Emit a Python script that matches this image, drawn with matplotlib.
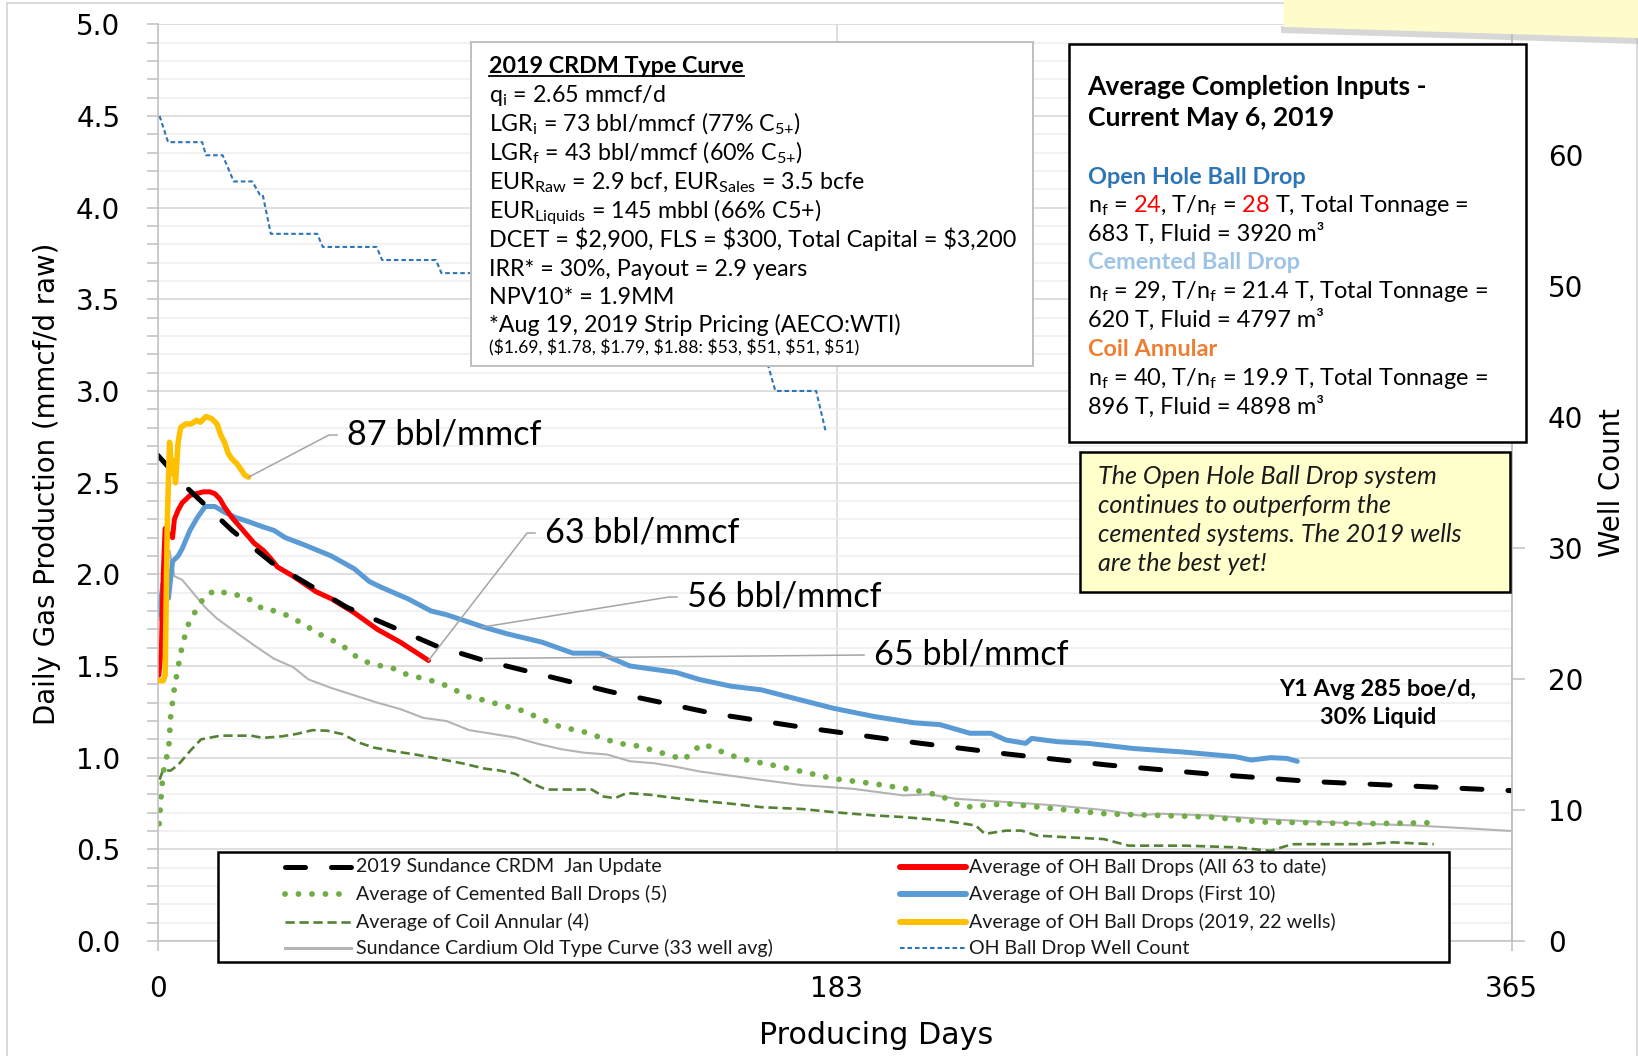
import numpy as np
import matplotlib
matplotlib.use("Agg")
import matplotlib.pyplot as plt
from matplotlib.lines import Line2D
from matplotlib.patches import Rectangle, Polygon
from matplotlib.transforms import Bbox

plt.rcParams['font.family'] = ['DejaVu Sans']
plt.rcParams['mathtext.fontset'] = 'custom'
plt.rcParams['mathtext.rm'] = 'Lato'
plt.rcParams['mathtext.it'] = 'Lato:italic'
plt.rcParams['mathtext.bf'] = 'Lato:bold'

# ---------------- data ----------------
x_ticks = [0, 183, 365]
x_tick_labels = ["0", "183", "365"]
y_ticks = [0.0, 0.5, 1.0, 1.5, 2.0, 2.5, 3.0, 3.5, 4.0, 4.5, 5.0]
y_tick_labels = ["0.0", "0.5", "1.0", "1.5", "2.0", "2.5", "3.0", "3.5", "4.0", "4.5", "5.0"]
y2_ticks = [0, 10, 20, 30, 40, 50, 60]
y2_tick_labels = ["0", "10", "20", "30", "40", "50", "60"]

crdm_days = [0, 8, 20, 31, 51, 75, 88, 100, 122, 150, 174, 201, 229, 256, 284, 311, 338, 365]
crdm_rate = [2.65, 2.47, 2.24, 2.06, 1.82, 1.61, 1.53, 1.47, 1.36, 1.24, 1.165, 1.09, 1.02, 0.96,
             0.91, 0.87, 0.845, 0.82]

cem_days = [0.4, 0.9, 1.4, 2.0, 2.9, 3.5, 4.5, 5.5, 6.6, 8.1, 10.2, 12.8, 15.9, 19.5, 22.6, 25.7,
            28.3, 31.9, 35, 38.1, 41.2, 44.3, 47.4, 50.5, 53.6, 56.6, 60.3, 63.8, 66.9, 70.5, 74.2,
            77.8, 84, 88.2, 91.3, 98.4, 104.7, 108.3, 115, 121.7, 125.4, 129, 132.5, 138.9, 142,
            144, 147.2, 150.3, 157, 168, 182, 193, 204, 211, 215, 217.7, 223, 228.7, 242.5, 256,
            270, 283.7, 297.5, 311, 325, 344]
cem_rate = [0.64, 0.78, 0.90, 0.98, 1.03, 1.227, 1.38, 1.494, 1.61, 1.72, 1.80, 1.885, 1.914, 1.89,
            1.885, 1.853, 1.81, 1.80, 1.775, 1.742, 1.704, 1.666, 1.637, 1.60, 1.55, 1.52, 1.50,
            1.485, 1.456, 1.437, 1.418, 1.393, 1.33, 1.313, 1.294, 1.256, 1.20, 1.17, 1.14, 1.094,
            1.075, 1.065, 1.046, 1.008, 0.989, 1.036, 1.075, 1.046, 0.995, 0.95, 0.886, 0.858,
            0.823, 0.794, 0.749, 0.73, 0.74, 0.749, 0.72, 0.693, 0.685, 0.676, 0.649, 0.645, 0.64,
            0.645]

coil_days = [0.5, 1.4, 3.5, 5.5, 8.7, 11.7, 16.9, 21, 25.2, 28.3, 33.4, 37.6, 41.7, 45.7, 49.9, 54,
             58.2, 63.4, 69.5, 75.7, 81.9, 88.2, 92.2, 96.4, 100.5, 104.7, 110.8, 117, 120.2, 123.3,
             126.4, 132.5, 139.7, 146, 154.5, 162.7, 173.7, 182, 193, 201, 212, 220.5, 223, 228.7,
             232.9, 237, 245, 255, 261.8, 277, 290.6, 300, 305.8, 318, 325, 333, 344]
coil_rate = [0.88, 0.93, 0.93, 0.96, 1.036, 1.10, 1.12, 1.12, 1.12, 1.108, 1.116, 1.13, 1.15, 1.147,
             1.128, 1.084, 1.055, 1.036, 1.017, 0.994, 0.97, 0.94, 0.93, 0.912, 0.864, 0.826, 0.826,
             0.826, 0.788, 0.779, 0.807, 0.798, 0.779, 0.765, 0.749, 0.73, 0.72, 0.703, 0.685,
             0.676, 0.657, 0.63, 0.584, 0.602, 0.602, 0.575, 0.566, 0.556, 0.52, 0.52, 0.511, 0.492,
             0.528, 0.528, 0.528, 0.538, 0.528]

old_days = [0.5, 1.5, 3.2, 4.5, 6.6, 9.7, 12.8, 15.9, 21, 26.2, 31.3, 36.5, 40.6, 46.8, 53, 59.2,
            65.4, 71.6, 77.8, 84, 90.2, 96.4, 102.6, 108.8, 115, 121.2, 127.4, 133.6, 139.8, 146,
            160, 173.7, 187.5, 201, 208, 215, 228.7, 242.5, 256.2, 264.5, 270, 283.7, 297.5, 311,
            325, 339, 352.5, 365]
old_rate = [1.75, 1.85, 2.13, 1.99, 1.97, 1.895, 1.82, 1.76, 1.685, 1.61, 1.54, 1.494, 1.427, 1.38,
            1.34, 1.30, 1.265, 1.217, 1.20, 1.15, 1.13, 1.11, 1.075, 1.046, 1.027, 1.017, 0.98,
            0.97, 0.95, 0.925, 0.886, 0.85, 0.83, 0.794, 0.80, 0.776, 0.758, 0.739, 0.712, 0.685,
            0.694, 0.685, 0.666, 0.652, 0.64, 0.63, 0.615, 0.60]

all63_days = [0.3, 1.0, 1.5, 2.0, 3, 4, 4.5, 5.5, 6.6, 8.7, 10.5, 12.3, 14, 15.4, 16.8, 17.9, 20, 23,
              26, 28.5, 30.3, 32.3, 36.5, 42.7, 46.8, 53, 59.2, 65.4, 73]
all63_rate = [1.45, 1.6, 2.0, 2.25, 2.22, 2.2, 2.3, 2.35, 2.39, 2.43, 2.44, 2.45, 2.45, 2.44, 2.41,
              2.37, 2.31, 2.24, 2.17, 2.13, 2.09, 2.04, 1.99, 1.905, 1.867, 1.79, 1.70, 1.63, 1.53]

first10_days = [0.4, 1.4, 2.9, 4.0, 5.5, 6.6, 8.7, 10.7, 12.8, 15.4, 17.9, 21, 24.1, 28.2, 31.3, 34.4,
                39.6, 46.8, 53, 57.1, 60.2, 67.5, 73.7, 77.8, 88.2, 94.3, 103.6, 111.9, 119.1, 127.3,
                139.7, 146.1, 154.5, 162.7, 169.6, 182, 193, 204, 210.9, 219, 224.6, 228.7, 234,
                235.6, 242.5, 250.8, 263, 276.9, 290.6, 294.8, 300, 304.4, 307.2]
first10_rate = [1.78, 1.95, 1.87, 2.07, 2.10, 2.14, 2.24, 2.31, 2.37, 2.37, 2.34, 2.31, 2.29, 2.26,
                2.24, 2.20, 2.16, 2.10, 2.03, 1.96, 1.93, 1.866, 1.80, 1.78, 1.71, 1.675, 1.63, 1.57,
                1.57, 1.50, 1.465, 1.426, 1.39, 1.37, 1.334, 1.27, 1.225, 1.19, 1.18, 1.133, 1.133,
                1.096, 1.078, 1.105, 1.087, 1.078, 1.05, 1.03, 1.005, 0.987, 1.0, 0.996, 0.98]

y2019_days = [0.4, 1.5, 2.0, 2.6, 3.2, 3.8, 4.3, 4.8, 5.5, 6.2, 7.5, 9, 10.5, 11.5, 13, 14.5, 16, 17,
              18, 19, 20, 21.5, 22.5, 23.5, 24.5]
y2019_rate = [1.42, 1.42, 1.45, 2.3, 2.72, 2.55, 2.62, 2.5, 2.72, 2.8, 2.82, 2.82, 2.84, 2.83, 2.86,
              2.85, 2.82, 2.76, 2.72, 2.66, 2.63, 2.6, 2.57, 2.54, 2.53]

wc_days = [0.5, 2.8, 12, 13, 17.5, 19, 20.5, 25.5, 27.5, 28.3, 30.5, 43, 44.5, 59, 60.5, 75, 76.5,
           98, 99.5, 118, 119.5, 134, 135.5, 149, 150.5, 163, 164.5, 166.5, 177.5, 180]
wc_count = [63, 61, 61, 60, 60, 59, 58, 58, 57, 57, 54, 54, 53, 53, 52, 52, 51, 51, 50, 50, 48, 48,
            47, 47, 45, 45, 44, 42, 42, 39]

legend_labels = ["2019 Sundance CRDM  Jan Update", "Average of Cemented Ball Drops (5)",
                 "Average of Coil Annular (4)", "Sundance Cardium Old Type Curve (33 well avg)",
                 "Average of OH Ball Drops (All 63 to date)", "Average of OH Ball Drops (First 10)",
                 "Average of OH Ball Drops (2019, 22 wells)", "OH Ball Drop Well Count"]

ann_labels = ["87 bbl/mmcf", "63 bbl/mmcf", "56 bbl/mmcf", "65 bbl/mmcf"]
ann_points = [(24.5, 2.53), (73.0, 1.53), (87.5, 1.712), (88.1, 1.541)]

# ---------------- styles / layout ----------------
W, H, DPI = 1638, 1056, 100
BOX_FONT = ['Lato', 'DejaVu Sans']
LEG_FONT = ['Liberation Sans Narrow', 'Lato', 'DejaVu Sans']

STY = {
    'crdm': dict(color='black', lw=3.6, linestyle=(0, (4.0, 5.2)), dash_capstyle='round'),
    'cem': dict(color='#70AD47', lw=4.2, linestyle=(0, (0.01, 2.3)), dash_capstyle='round'),
    'coil': dict(color='#548235', lw=1.9, linestyle=(0, (3.5, 1.8))),
    'old': dict(color='#b4b4b4', lw=1.5),
    'all63': dict(color='#FF0000', lw=3.6, solid_capstyle='round', solid_joinstyle='round'),
    'first10': dict(color='#5B9BD5', lw=3.6, solid_capstyle='round', solid_joinstyle='round'),
    'y2019': dict(color='#FFC000', lw=4.0, solid_capstyle='round', solid_joinstyle='round'),
    'wc': dict(color='#2E75B6', lw=1.5, linestyle=(0, (2.2, 1.4))),
}

fig = plt.figure(figsize=(W / DPI, H / DPI), dpi=DPI)
fig.patch.set_facecolor('white')
R = fig.canvas.get_renderer()


def fxy(x, y):
    return x / W, 1 - y / H


def text_width(s, size, **kw):
    t = fig.text(0, 0, s, fontsize=size, **kw)
    w = t.get_window_extent(R).width
    t.remove()
    return w


def fit(s, target, **kw):
    return 20.0 * target / text_width(s, 20.0, **kw)


# ---------------- axes ----------------
AX_L, AX_R, AX_T, AX_B = 157.7, 1511.7, 24.3, 941.0
ax = fig.add_axes([AX_L / W, 1 - AX_B / H, (AX_R - AX_L) / W, (AX_B - AX_T) / H])
ax.set_xlim(0, 365)
ax.set_ylim(0, 5)
ax.set_xticks(x_ticks)
ax.set_xticklabels(x_tick_labels)
ax.set_yticks(y_ticks)
ax.set_yticklabels(y_tick_labels)
minor = [v / 10 for v in range(1, 50) if v % 5]
ax.set_yticks(minor, minor=True)
ax.set_axisbelow(True)
ax.grid(True, which='minor', axis='y', color='#ededed', lw=1.1)
ax.grid(True, which='major', axis='y', color='#d6d6d6', lw=1.1)
ax.grid(True, which='major', axis='x', color='#d6d6d6', lw=1.1)
ax.spines['top'].set_visible(False)
for s in ['left', 'bottom', 'right']:
    ax.spines[s].set_color('#c0c0c0')
    ax.spines[s].set_linewidth(1.1)
ax.tick_params(axis='y', which='both', direction='out', length=7.9, width=1.1, color='#c0c0c0',
               labelsize=20, pad=19)
ax.tick_params(axis='x', which='major', direction='out', length=7.2, width=1.1, color='#c0c0c0',
               labelsize=20, pad=17)

ax2 = ax.twinx()
ax2.set_ylim(0, 70)
ax2.set_yticks(y2_ticks)
ax2.set_yticklabels(y2_tick_labels)
for s in ['left', 'top', 'bottom']:
    ax2.spines[s].set_visible(False)
ax2.spines['right'].set_color('#c0c0c0')
ax2.spines['right'].set_linewidth(1.1)
ax2.tick_params(axis='y', direction='out', length=9, width=1.1, color='#c0c0c0', labelsize=20, pad=17)

ax.plot(old_days, old_rate, zorder=2.0, **STY['old'])
ax.plot(coil_days, coil_rate, zorder=2.1, **STY['coil'])
ax.plot(cem_days, cem_rate, zorder=2.2, **STY['cem'])
ax.plot(first10_days, first10_rate, zorder=2.3, **STY['first10'])
ax.plot(all63_days, all63_rate, zorder=2.4, **STY['all63'])
ax.plot(crdm_days, crdm_rate, zorder=2.5, **STY['crdm'])
ax.plot(y2019_days, y2019_rate, zorder=2.6, **STY['y2019'])
ax2.plot(wc_days, wc_count, **STY['wc'])

# axis titles
s_xl = fit("Producing Days", 234)
s_yl = fit("Daily Gas Production (mmcf/d raw)", 483)
fig.text(*fxy(876, 1032), "Producing Days", fontsize=s_xl, ha='center', va='center_baseline')
fig.text(*fxy(47, 483.6), "Daily Gas Production (mmcf/d raw)", fontsize=s_yl, rotation=90,
         ha='center', va='center')
fig.text(*fxy(1612, 483), "Well Count", fontsize=s_yl, rotation=90, ha='center', va='center')

# ---------------- annotations ----------------
s_ann = fit(ann_labels[0], 195, family=BOX_FONT)
ann_text_pos = [(347, 432), (545, 530), (687, 594), (874, 652)]
ann_arm = [18, 18, 18, 10]
for lab, pt, tp, arm in zip(ann_labels, ann_points, ann_text_pos, ann_arm):
    ax.annotate(lab, xy=pt, xycoords='data', xytext=(tp[0], H - tp[1]), textcoords='figure pixels',
                ha='left', va='center_baseline', fontsize=s_ann, family=BOX_FONT, color='black',
                arrowprops=dict(arrowstyle='-', color='#a5a5a5', lw=1.1, shrinkA=5, shrinkB=0,
                                relpos=(0, 0.5),
                                connectionstyle=f'arc,angleA=180,armA={arm},angleB=0,armB=0,rad=0'))


# ---------------- text boxes ----------------
def box(x0, y0, x1, y1, fc, ec, lw, z=5):
    fig.add_artist(Rectangle(fxy(x0, y1), (x1 - x0) / W, (y1 - y0) / H, transform=fig.transFigure,
                             facecolor=fc, edgecolor=ec, lw=lw, zorder=z))


def put_line(x, yc, parts, size, weight='normal', style='normal', family=None):
    family = family or BOX_FONT
    kw = dict(family=family, weight=weight, style=style)
    yb = yc + 0.36 * size * DPI / 72.0
    full = ''.join(p for p, _ in parts)
    if len(parts) == 1:
        fig.text(*fxy(x, yb), full, color=parts[0][1], ha='left', va='baseline', zorder=6,
                 fontsize=size, **kw)
        return
    bounds = [0.0]
    acc = ''
    for p, _ in parts[:-1]:
        acc += p
        bounds.append(x + text_width(acc, size, **kw) - (2 if p.endswith(' ') else 0))
    bounds.append(float(W))
    for i, (p, c) in enumerate(parts):
        t = fig.text(*fxy(x, yb), full, color=c, ha='left', va='baseline', zorder=6,
                     fontsize=size, **kw)
        t.set_clip_box(Bbox([[bounds[i], 0], [bounds[i + 1], H]]))


# CRDM box
box(471, 42, 1033, 366, 'white', '#bfbfbf', 1.4)
crdm_title = "2019 CRDM Type Curve"
crdm_lines = [
    r"q$_{\mathrm{i}}$ = 2.65 mmcf/d",
    r"LGR$_{\mathrm{i}}$ = 73 bbl/mmcf (77% C$_{\mathrm{5}{+}}$)",
    r"LGR$_{\mathrm{f}}$ = 43 bbl/mmcf (60% C$_{\mathrm{5}{+}}$)",
    r"EUR$_{\mathrm{Raw}}$ = 2.9 bcf, EUR$_{\mathrm{Sales}}$ = 3.5 bcfe",
    r"EUR$_{\mathrm{Liquids}}$ = 145 mbbl (66% C5+)",
    r"DCET = \$2,900, FLS = \$300, Total Capital = \$3,200",
    r"IRR* = 30%, Payout = 2.9 years",
    r"NPV10* = 1.9MM",
    r"*Aug 19, 2019 Strip Pricing (AECO:WTI)",
]
crdm_small = r"(\$1.69, \$1.78, \$1.79, \$1.88: \$53, \$51, \$51, \$51)"
s_box = fit(crdm_lines[5], 525, family=BOX_FONT)
s_small = fit(crdm_small, 369, family=BOX_FONT)
crdm_y = [94, 123.3, 151.7, 180.7, 210, 238.3, 267.3, 295.7, 324]
put_line(489, 65, [(crdm_title, 'black')], s_box, weight='bold')
tw = text_width(crdm_title, s_box, family=BOX_FONT, weight='bold')
yb = 65 + 0.36 * s_box * DPI / 72.0 + 3
fig.add_artist(Line2D([489 / W, (489 + tw) / W], [1 - yb / H, 1 - yb / H], transform=fig.transFigure,
                      color='black', lw=1.3, zorder=6))
for yy, ln in zip(crdm_y, crdm_lines):
    put_line(489, yy, [(ln, 'black')], s_box)
put_line(489, 347.3, [(crdm_small, 'black')], s_small)

# Completion inputs box
box(1069, 44, 1526, 442, 'white', 'black', 1.8)
RED = '#FF0000'
nf = r"n$_{\mathrm{f}}$"
comp_rows = [
    ([("Average Completion Inputs -", 'black')], 'bold', 85),
    ([("Current May 6, 2019", 'black')], 'bold', 116),
    ([("Open Hole Ball Drop", '#2E75B6')], 'bold', 175.7),
    ([(nf + " = ", 'black'), ("24", RED), (", T/" + nf + " = ", 'black'), ("28", RED),
      (" T, Total Tonnage =", 'black')], 'normal', 204),
    ([("683 T, Fluid = 3920 m³", 'black')], 'normal', 232.3),
    ([("Cemented Ball Drop", '#9DC3E6')], 'bold', 261),
    ([(nf + " = 29, T/" + nf + " = 21.4 T, Total Tonnage =", 'black')], 'normal', 290),
    ([("620 T, Fluid = 4797 m³", 'black')], 'normal', 318.3),
    ([("Coil Annular", '#ED7D31')], 'bold', 347.3),
    ([(nf + " = 40, T/" + nf + " = 19.9 T, Total Tonnage =", 'black')], 'normal', 376.7),
    ([("896 T, Fluid = 4898 m³", 'black')], 'normal', 405),
]
s_comp = fit(comp_rows[6][0][0][0], 399, family=BOX_FONT)
s_comp_title = fit(comp_rows[0][0][0][0], 339, family=BOX_FONT, weight='bold')
for k, (parts, wt, yy) in enumerate(comp_rows):
    put_line(1087.5, yy, parts, s_comp_title if k < 2 else s_comp, weight=wt)

# yellow comment box
box(1080, 452, 1510, 592, '#FFFFCC', 'black', 1.8)
note_lines = ["The Open Hole Ball Drop system", "continues to outperform the",
              "cemented systems. The 2019 wells", "are the best yet!"]
s_note = fit(note_lines[2], 364, family=BOX_FONT, style='italic')
for yy, ln in zip([475, 504, 533, 562], note_lines):
    put_line(1098, yy, [(ln, '#1a1a1a')], s_note, style='italic')

# Y1 text
y1_lines = ["Y1 Avg 285 boe/d,", "30% Liquid"]
s_y1 = fit(y1_lines[0], 197, family=BOX_FONT, weight='bold')
for yy, ln in zip([687, 715], y1_lines):
    fig.text(*fxy(1378, yy), ln, fontsize=s_y1, family=BOX_FONT, weight='bold', ha='center',
             va='center_baseline', zorder=6)

# ---------------- legend ----------------
box(218, 852, 1449, 962, 'white', 'black', 1.8)
s_leg = fit(legend_labels[3], 418, family=LEG_FONT)
leg_keys = ['crdm', 'cem', 'coil', 'old', 'all63', 'first10', 'y2019', 'wc']
leg_lw = {'old': 2.2, 'all63': 4.3, 'first10': 4.3, 'y2019': 4.3}
rows_y = [866.7, 894, 921.5, 948.3]
for i, (key, lab) in enumerate(zip(leg_keys, legend_labels)):
    col = i // 4
    yy = rows_y[i % 4]
    hx0, hx1, tx = (285, 351, 356) if col == 0 else (900, 966, 969)
    st = dict(STY[key])
    if key in leg_lw:
        st['lw'] = leg_lw[key]
    fig.add_artist(Line2D([hx0 / W, hx1 / W], [1 - yy / H, 1 - yy / H], transform=fig.transFigure,
                          zorder=7, **st))
    fig.text(*fxy(tx, yy), lab, fontsize=s_leg, family=LEG_FONT, ha='left', va='center', zorder=7,
             color='#1a1a1a')

# ---------------- decorations ----------------
fig.add_artist(Rectangle(fxy(7, 1100), (1637 - 7) / W, (1100 - 3) / H, transform=fig.transFigure,
                         facecolor='none', edgecolor='#d0d0d0', lw=1.1, zorder=0.5))
shadow = [fxy(1281, 26), fxy(1638, 37), fxy(1638, 44), fxy(1281, 33)]
fig.add_artist(Polygon(shadow, closed=True, transform=fig.transFigure, facecolor='#bdbdbd',
                       edgecolor='none', alpha=0.6, zorder=8))
note = [fxy(1284, 0), fxy(1638, 0), fxy(1638, 38), fxy(1284, 27)]
fig.add_artist(Polygon(note, closed=True, transform=fig.transFigure, facecolor='#FFFCCB',
                       edgecolor='none', zorder=9))

fig.savefig("out.png", dpi=DPI, facecolor='white')
